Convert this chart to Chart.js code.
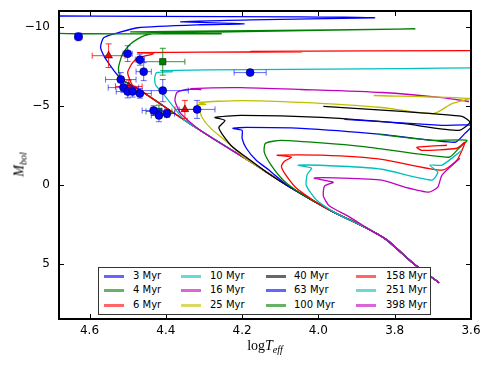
<!DOCTYPE html>
<html>
<head>
<meta charset="utf-8">
<script src="https://cdn.jsdelivr.net/npm/chart.js@4.4.0/dist/chart.umd.min.js"></script>
<style>
  body { margin: 0; background: #fff; }
  #wrap { position: relative; width: 491px; height: 368px; }
  #chart { position: absolute; left: 0; top: 0; }
  #legend {
    position: absolute; left: 98px; top: 267px; width: 333px; height: 48px;
    box-sizing: border-box; border: 1px solid #333; background: #fff;
    font: 10px "DejaVu Sans", sans-serif; color: #000;
  }
  #legend .sw { position: absolute; width: 20px; height: 2.5px; opacity: 0.6; }
  #legend .tx { position: absolute; line-height: 12px; white-space: nowrap; }
  #xtitle {
    position: absolute; left: 215px; top: 338px; width: 100px; text-align: center;
    font: 14px "Liberation Serif", serif;
  }
  #ytitle {
    position: absolute; left: -30px; top: 156px; width: 100px; text-align: center;
    font: 14px "Liberation Serif", serif; transform: rotate(-90deg);
  }
  sub { font-size: 10px; vertical-align: -3px; }
</style>
</head>
<body>
<div id="wrap">
  <canvas id="chart" width="491" height="368"></canvas>
  <div id="legend"></div>
  <div id="xtitle">log<i>T</i><sub><i>eff</i></sub></div>
  <div id="ytitle"><i>M</i><sub><i>bol</i></sub></div>
</div>
<script>
// axes
const xTicks = [4.6, 4.4, 4.2, 4.0, 3.8, 3.6];
const yTicks = [-10, -5, 0, 5];

const ages = ["3 Myr", "4 Myr", "6 Myr", "10 Myr", "16 Myr", "25 Myr",
              "40 Myr", "63 Myr", "100 Myr", "158 Myr", "251 Myr", "398 Myr"];
const colors = ["#0000ff", "#008000", "#ff0000", "#00bfbf", "#bf00bf", "#bfbf00",
                "#000000", "#0000ff", "#008000", "#ff0000", "#00bfbf", "#bf00bf"];

// shared lower main sequence [logTeff, Mbol]
const mainSeq = [[3.684, 6.20], [3.747, 5.07], [3.821, 3.49], [3.874, 2.74], [3.966, 1.66],
                 [4.071, 0.21], [4.176, -1.42], [4.326, -3.69], [4.466, -5.96], [4.518, -6.72]];

// upper parts of the isochrones, starting where they leave the main sequence
const iso3 = [[4.518, -6.72], [4.558, -7.98], [4.571, -8.68], [4.563, -9.31], [4.526, -9.62],
              [4.474, -9.94], [4.308, -10.13], [4.195, -10.19], [4.361, -10.32], [4.176, -10.44],
              [3.853, -10.57], [4.045, -10.63], [4.439, -10.66], [4.729, -10.69]];
const iso4 = [[4.518, -6.72], [4.524, -7.41], [4.513, -8.30], [4.492, -8.93], [4.458, -9.43],
              [4.413, -9.62], [4.229, -9.68], [3.747, -9.87], [4.176, -9.75], [4.492, -9.68],
              [4.255, -9.56], [4.624, -9.56], [4.729, -9.62]];
const iso6 = [[4.487, -6.27], [4.500, -7.10], [4.487, -7.73], [4.471, -8.05], [4.432, -8.30],
              [4.474, -8.36], [4.308, -8.39], [4.045, -8.42], [4.176, -8.45], [3.571, -8.49]];
const iso10 = [[4.353, -4.13], [4.405, -5.71], [4.426, -6.28], [4.429, -6.78], [4.424, -7.10],
               [4.382, -7.16], [4.413, -7.23], [4.176, -7.29], [3.782, -7.35], [3.571, -7.41]];
const iso16 = [[4.308, -3.42], [4.361, -4.51], [4.376, -5.33], [4.371, -5.84], [4.347, -6.03],
               [4.308, -6.03], [4.334, -6.09], [4.203, -6.15], [4.045, -6.03], [3.834, -5.84],
               [3.676, -5.52], [3.605, -5.27]];
const iso25 = [[4.189, -1.62], [4.242, -2.75], [4.282, -3.57], [4.305, -4.26], [4.313, -4.83],
               [4.316, -5.08], [4.295, -5.08], [4.313, -5.21], [4.203, -5.33], [4.045, -5.21],
               [3.834, -4.89], [3.697, -4.51], [3.650, -5.14], [3.603, -5.46], [3.855, -5.65]];
const iso40 = [[4.137, -0.81], [4.189, -1.74], [4.224, -2.37], [4.250, -3.13], [4.261, -3.63],
               [4.245, -4.07], [4.271, -4.26], [4.203, -4.39], [3.992, -4.26], [3.782, -3.88],
               [3.632, -3.44], [3.603, -3.95], [3.624, -4.33], [3.782, -4.64], [3.987, -4.96]];
const iso63 = [[4.084, 0.01], [4.129, -0.92], [4.163, -1.55], [4.189, -2.31], [4.200, -2.94],
               [4.200, -3.44], [4.224, -3.57], [4.189, -3.63], [4.045, -3.57], [3.834, -3.19],
               [3.642, -2.69], [3.616, -3.25], [3.597, -3.76], [3.676, -3.76], [3.932, -4.14]];
const iso100 = [[4.045, 0.57], [4.092, -0.29], [4.124, -1.24], [4.142, -2.06], [4.139, -2.62],
                [4.097, -2.81], [3.887, -2.43], [3.658, -1.74], [3.632, -2.31], [3.611, -2.81],
                [3.703, -2.81], [3.842, -3.19]];
const iso158 = [[4.005, 1.12], [4.058, 0.21], [4.087, -0.67], [4.097, -1.17], [4.089, -1.49],
                [4.071, -1.74], [4.108, -1.87], [3.992, -1.87], [3.834, -1.61], [3.676, -0.92],
                [3.637, -1.55], [3.616, -2.69], [3.637, -2.31], [3.729, -2.18], [3.742, -2.37],
                [3.663, -2.50]];
const iso251 = [[3.953, 1.81], [4.005, 0.97], [4.032, 0.03], [4.029, -0.67], [4.018, -1.05],
                [4.053, -1.24], [3.939, -1.17], [3.834, -0.98], [3.703, -0.29], [3.687, -0.79],
                [3.708, -1.24], [3.676, -1.24], [3.624, -2.18]];
const iso398 = [[3.861, 2.92], [3.921, 2.00], [3.971, 1.35], [3.987, 0.72], [3.984, 0.09],
                [3.961, -0.16], [4.011, -0.42], [3.939, -0.42], [3.834, -0.29], [3.774, 0.15],
                [3.711, 0.47], [3.687, 0.15], [3.676, -0.61], [3.629, -1.68]];
const tracks = [iso3, iso4, iso6, iso10, iso16, iso25, iso40, iso63, iso100, iso158, iso251, iso398];

// observed stars [logTeff, Mbol, err logTeff, err Mbol]
const blueStars = [[4.629, -9.37, 0.01, 0.25], [4.500, -8.30, 0.012, 0.5], [4.468, -7.92, 0.012, 0.35],
                   [4.458, -7.16, 0.02, 0.57], [4.179, -7.10, 0.042, 0.1], [4.518, -6.66, 0.04, 0.44],
                   [4.511, -6.15, 0.04, 0.3], [4.500, -5.90, 0.03, 0.4], [4.487, -5.90, 0.02, 0.35],
                   [4.468, -5.78, 0.03, 0.3], [4.408, -5.96, 0.067, 0.7], [4.318, -4.77, 0.047, 0.57],
                   [4.432, -4.70, 0.03, 0.3], [4.397, -4.51, 0.02, 0.25], [4.418, -4.39, 0.02, 0.4]];
const redStars = [[4.550, -8.17, 0.043, 0.75], [4.497, -6.22, 0.035, 0.4], [4.350, -4.77, 0.026, 0.57]];
const greenStars = [[4.408, -7.79, 0.058, 0.85], [4.418, -4.64, 0.034, 0.4]];

const isoSets = tracks.map((tr, i) => {
  const pts = mainSeq.filter(p => p[0] < tr[0][0]).concat(tr);
  return {
    label: ages[i],
    data: pts.map(([x, y]) => ({ x, y })),
    showLine: true,
    borderColor: colors[i],
    borderWidth: 1.3,
    pointRadius: 0,
    tension: 0.2,
    order: 20 - i,
  };
});

function starSet(stars, color, style, r, errColor) {
  return {
    data: stars.map(([x, y]) => ({ x, y })),
    errors: stars,
    errColor: errColor,
    pointStyle: style,
    pointRadius: r,
    backgroundColor: color,
    borderColor: "#000",
    borderWidth: 0.5,
    order: 0,
  };
}

const starSets = [
  starSet(blueStars, "#0000ff", "circle", 4, "rgba(0,0,255,0.6)"),
  starSet(redStars, "#ff0000", "triangle", 4.5, "rgba(255,0,0,0.8)"),
  starSet(greenStars, "#008000", "rect", 4.5, "rgba(0,128,0,0.8)"),
];

// error bars under the markers, frame and inward ticks on top
const extras = {
  id: "extras",
  beforeDatasetDraw(chart, args) {
    const ds = chart.data.datasets[args.index];
    if (!ds.errors) return;
    const { ctx, scales: { x, y } } = chart;
    ctx.save();
    ctx.strokeStyle = ds.errColor;
    ctx.lineWidth = 1;
    ds.errors.forEach(([lt, mb, dx, dy]) => {
      const px = x.getPixelForValue(lt), py = y.getPixelForValue(mb);
      const x0 = x.getPixelForValue(lt - dx), x1 = x.getPixelForValue(lt + dx);
      const y0 = y.getPixelForValue(mb - dy), y1 = y.getPixelForValue(mb + dy);
      ctx.beginPath();
      ctx.moveTo(x0, py); ctx.lineTo(x1, py);
      ctx.moveTo(px, y0); ctx.lineTo(px, y1);
      ctx.moveTo(x0, py - 3); ctx.lineTo(x0, py + 3);
      ctx.moveTo(x1, py - 3); ctx.lineTo(x1, py + 3);
      ctx.moveTo(px - 3, y0); ctx.lineTo(px + 3, y0);
      ctx.moveTo(px - 3, y1); ctx.lineTo(px + 3, y1);
      ctx.stroke();
    });
    ctx.restore();
  },
  afterDraw(chart) {
    const { ctx, chartArea: a, scales: { x, y } } = chart;
    ctx.save();
    ctx.strokeStyle = "#000";
    ctx.lineWidth = 1;
    ctx.beginPath();
    xTicks.forEach(v => {
      const p = Math.round(x.getPixelForValue(v)) + 0.5;
      ctx.moveTo(p, a.bottom); ctx.lineTo(p, a.bottom - 5);
      ctx.moveTo(p, a.top); ctx.lineTo(p, a.top + 5);
    });
    yTicks.forEach(v => {
      const p = Math.round(y.getPixelForValue(v)) + 0.5;
      ctx.moveTo(a.left, p); ctx.lineTo(a.left + 5, p);
      ctx.moveTo(a.right, p); ctx.lineTo(a.right - 5, p);
    });
    ctx.stroke();
    ctx.lineWidth = 2;
    ctx.strokeRect(a.left, a.top, a.right - a.left, a.bottom - a.top);
    ctx.restore();
  },
};

Chart.defaults.font.family = "DejaVu Sans";
Chart.defaults.font.size = 12;
Chart.defaults.color = "#000";

new Chart(document.getElementById("chart"), {
  type: "scatter",
  data: { datasets: isoSets.concat(starSets) },
  options: {
    responsive: false,
    animation: false,
    events: [],
    layout: { padding: { left: 0, right: 20, top: 11, bottom: 0 } },
    plugins: { legend: { display: false }, tooltip: { enabled: false } },
    scales: {
      x: {
        type: "linear", min: 3.6, max: 4.68, reverse: true,
        grid: { display: false, drawTicks: false }, border: { display: false },
        ticks: { padding: 5, callback: v => v.toFixed(1) },
        afterBuildTicks: s => { s.ticks = xTicks.map(v => ({ value: v })); },
        afterFit: s => { s.height = 49; s.paddingLeft = 0; s.paddingRight = 0; },
      },
      y: {
        type: "linear", min: -11, max: 8.5, reverse: true,
        grid: { display: false, drawTicks: false }, border: { display: false },
        ticks: { padding: 9, callback: v => (v < 0 ? "\u2212" + Math.abs(v) : String(v)) },
        afterBuildTicks: s => { s.ticks = yTicks.map(v => ({ value: v })); },
        afterFit: s => { s.width = 59; s.paddingTop = 0; s.paddingBottom = 0; },
      },
    },
  },
  plugins: [extras],
});

// legend: 3 rows, filled column by column
const legend = document.getElementById("legend");
const swLeft = [5, 82, 167, 257], txLeft = [34, 111, 195, 287], rowMid = [8, 22, 37];
ages.forEach((label, i) => {
  const col = Math.floor(i / 3), row = i % 3;
  const sw = document.createElement("div");
  sw.className = "sw";
  sw.style.left = swLeft[col] + "px";
  sw.style.top = (rowMid[row] - 1) + "px";
  sw.style.background = colors[i];
  const tx = document.createElement("div");
  tx.className = "tx";
  tx.style.left = txLeft[col] + "px";
  tx.style.top = (rowMid[row] - 6) + "px";
  tx.textContent = label;
  legend.appendChild(sw);
  legend.appendChild(tx);
});
</script>
</body>
</html>
